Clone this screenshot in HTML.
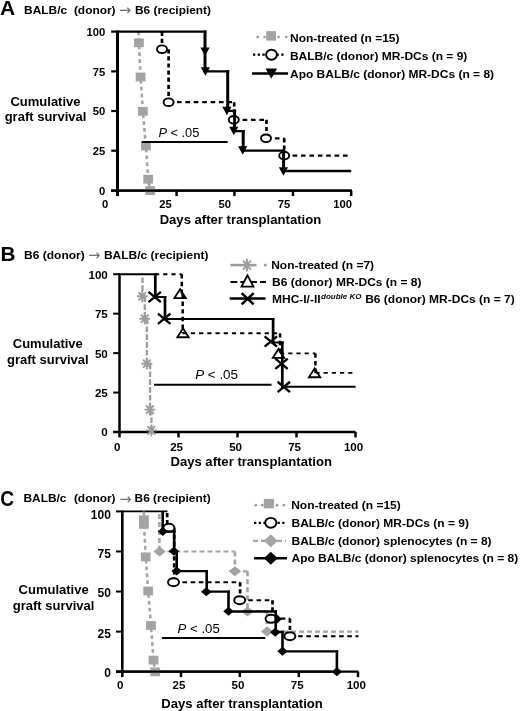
<!DOCTYPE html>
<html><head><meta charset="utf-8"><title>Graft survival</title>
<style>html,body{margin:0;padding:0;background:#fff;width:520px;height:711px;overflow:hidden}svg{display:block}</style>
</head><body>
<svg width="520" height="711" viewBox="0 0 520 711" style="font-family:'Liberation Sans', Arial, sans-serif">
<rect width="520" height="711" fill="#fff"/>
<text x="0.1" y="14.8" text-anchor="start" style="font-size:21px;font-weight:bold;" fill="#000">A</text>
<text transform="translate(24.1 13.5) scale(1.0 0.93)" text-anchor="start" style="font-size:11.9px;font-weight:bold;" fill="#000">BALB/c</text>
<text transform="translate(73.9 13.5) scale(1.0 0.93)" text-anchor="start" style="font-size:11.9px;font-weight:bold;" fill="#000">(donor)</text>
<text x="118.9" y="15.0" style="font-family:'DejaVu Sans',sans-serif;font-size:14.5px;font-weight:normal" fill="#707070">→</text>
<text transform="translate(135.0 13.5) scale(1.0 0.93)" text-anchor="start" style="font-size:11.9px;font-weight:bold;" fill="#000">B6 (recipient)</text>
<text x="45.5" y="105.8" text-anchor="middle" style="font-size:13px;font-weight:bold;" fill="#000">Cumulative</text>
<text x="45.5" y="120.8" text-anchor="middle" style="font-size:13px;font-weight:bold;" fill="#000">graft survival</text>
<path d="M111.20,31.60 H117.5" fill="none" stroke="#000" stroke-width="2.2" stroke-linecap="butt" stroke-linejoin="miter"/>
<text x="105.2" y="35.8" text-anchor="end" style="font-size:11.25px;font-weight:bold;" fill="#000">100</text>
<path d="M111.20,71.40 H117.5" fill="none" stroke="#000" stroke-width="2.2" stroke-linecap="butt" stroke-linejoin="miter"/>
<text x="105.2" y="75.6" text-anchor="end" style="font-size:11.25px;font-weight:bold;" fill="#000">75</text>
<path d="M111.20,111.00 H117.5" fill="none" stroke="#000" stroke-width="2.2" stroke-linecap="butt" stroke-linejoin="miter"/>
<text x="105.2" y="115.2" text-anchor="end" style="font-size:11.25px;font-weight:bold;" fill="#000">50</text>
<path d="M111.20,150.70 H117.5" fill="none" stroke="#000" stroke-width="2.2" stroke-linecap="butt" stroke-linejoin="miter"/>
<text x="105.2" y="154.9" text-anchor="end" style="font-size:11.25px;font-weight:bold;" fill="#000">25</text>
<path d="M111.20,190.70 H117.5" fill="none" stroke="#000" stroke-width="2.2" stroke-linecap="butt" stroke-linejoin="miter"/>
<text x="105.2" y="194.9" text-anchor="end" style="font-size:11.25px;font-weight:bold;" fill="#000">0</text>
<path d="M117.5,30.50 V196.10" fill="none" stroke="#000" stroke-width="3.0" stroke-linecap="butt" stroke-linejoin="miter"/>
<path d="M111.20,190.7 H351.80" fill="none" stroke="#000" stroke-width="2.3" stroke-linecap="butt" stroke-linejoin="miter"/>
<path d="M176.60,190.7 V196.10" fill="none" stroke="#000" stroke-width="2.5" stroke-linecap="butt" stroke-linejoin="miter"/>
<path d="M234.40,190.7 V196.10" fill="none" stroke="#000" stroke-width="2.5" stroke-linecap="butt" stroke-linejoin="miter"/>
<path d="M293.00,190.7 V196.10" fill="none" stroke="#000" stroke-width="2.5" stroke-linecap="butt" stroke-linejoin="miter"/>
<path d="M351.20,190.7 V196.10" fill="none" stroke="#000" stroke-width="2.5" stroke-linecap="butt" stroke-linejoin="miter"/>
<text x="105.2" y="207.5" text-anchor="middle" style="font-size:11.25px;font-weight:bold;" fill="#000">0</text>
<text x="165.5" y="207.5" text-anchor="middle" style="font-size:11.25px;font-weight:bold;" fill="#000">25</text>
<text x="224.8" y="207.5" text-anchor="middle" style="font-size:11.25px;font-weight:bold;" fill="#000">50</text>
<text x="284.0" y="207.5" text-anchor="middle" style="font-size:11.25px;font-weight:bold;" fill="#000">75</text>
<text x="342.7" y="207.5" text-anchor="middle" style="font-size:11.25px;font-weight:bold;" fill="#000">100</text>
<text x="240.4" y="223.6" text-anchor="middle" style="font-size:13.1px;font-weight:bold;" fill="#000">Days after transplantation</text>
<text x="158.4" y="136.6" style="font-size:12.8px;font-weight:normal"><tspan font-style="italic">P</tspan> &lt; .05</text>
<path d="M138.5,31.6 L138.9,42.8 L140.6,77 L142.9,111.3 L145.9,146.0 L148.2,179.2 L150.1,190.4" fill="none" stroke="#a3a3a3" stroke-width="2.6" stroke-linecap="butt" stroke-linejoin="miter" stroke-dasharray="3.7,3.2"/>
<rect x="134.00" y="38.40" width="9.8" height="8.8" fill="#a3a3a3"/>
<rect x="135.70" y="72.60" width="9.8" height="8.8" fill="#a3a3a3"/>
<rect x="138.00" y="106.90" width="9.8" height="8.8" fill="#a3a3a3"/>
<rect x="141.00" y="141.60" width="9.8" height="8.8" fill="#a3a3a3"/>
<rect x="143.30" y="174.80" width="9.8" height="8.8" fill="#a3a3a3"/>
<rect x="145.20" y="186.20" width="9.8" height="8.8" fill="#a3a3a3"/>
<path d="M141.8,142.0 H227.7" fill="none" stroke="#000" stroke-width="2.1" stroke-linecap="butt" stroke-linejoin="miter"/>
<path d="M162.0,31.7 L162.0,49.2 M168.6,49.2 L168.6,102.2 M234.2,102.2 L234.2,119.8 M266.5,119.8 L266.5,138.3 M284.2,138.3 L284.2,155.6" fill="none" stroke="#000" stroke-width="2.7" stroke-linecap="butt" stroke-linejoin="miter" stroke-dasharray="4.2,2.9"/>
<path d="M162.0,49.2 H168.6 M168.6,102.2 H234.2 M234.2,119.8 H266.5 M266.5,138.3 H284.2 M284.2,155.6 H351.2" fill="none" stroke="#000" stroke-width="2.2" stroke-linecap="butt" stroke-linejoin="miter" stroke-dasharray="4.6,3.8"/>
<ellipse cx="162" cy="49.2" rx="5.0" ry="3.8" fill="#fff" stroke="#000" stroke-width="1.9"/>
<ellipse cx="168.6" cy="102.2" rx="5.0" ry="3.8" fill="#fff" stroke="#000" stroke-width="1.9"/>
<ellipse cx="233.8" cy="119.8" rx="5.0" ry="3.8" fill="#fff" stroke="#000" stroke-width="1.9"/>
<ellipse cx="266.0" cy="138.3" rx="5.0" ry="3.8" fill="#fff" stroke="#000" stroke-width="1.9"/>
<ellipse cx="284.2" cy="155.6" rx="5.0" ry="3.8" fill="#fff" stroke="#000" stroke-width="1.9"/>
<path d="M205.0,30.55 V72.55 M227.7,70.25 V111.95 M234.6,109.65 V132.35 M243.2,130.05 V151.85 M283.6,149.55 V172.15" fill="none" stroke="#000" stroke-width="3.0" stroke-linecap="butt" stroke-linejoin="miter"/>
<path d="M117.50,31.7 H206.50 M203.50,71.4 H229.20 M226.20,110.8 H236.10 M233.10,131.2 H244.70 M241.70,150.7 H285.10 M282.10,171.0 H351.20" fill="none" stroke="#000" stroke-width="2.3" stroke-linecap="butt" stroke-linejoin="miter"/>
<path d="M200.40,47.55 L209.60,47.55 L205.00,56.05 Z" fill="#000"/>
<path d="M200.80,67.15 L210.00,67.15 L205.40,75.65 Z" fill="#000"/>
<path d="M222.30,106.65 L231.50,106.65 L226.90,115.15 Z" fill="#000"/>
<path d="M229.20,126.75 L238.40,126.75 L233.80,135.25 Z" fill="#000"/>
<path d="M238.10,146.35 L247.30,146.35 L242.70,154.85 Z" fill="#000"/>
<path d="M278.80,167.15 L288.00,167.15 L283.40,175.65 Z" fill="#000"/>
<path d="M111.20,190.7 H351.8" fill="none" stroke="#000" stroke-width="2.3" stroke-linecap="butt" stroke-linejoin="miter"/>
<circle cx="257.7" cy="37.0" r="1.35" fill="#999"/>
<circle cx="264.6" cy="37.0" r="1.35" fill="#999"/>
<circle cx="278.5" cy="37.0" r="1.35" fill="#999"/>
<circle cx="286.2" cy="37.0" r="1.35" fill="#999"/>
<rect x="266.20" y="31.15" width="9.8" height="9.5" fill="#a3a3a3"/>
<text transform="translate(290 41.6) scale(1.0 0.95)" text-anchor="start" style="font-size:12px;font-weight:bold;" fill="#000">Non-treated (n =15)</text>
<path d="M253,54.7 H284" fill="none" stroke="#000" stroke-width="2.3" stroke-linecap="butt" stroke-linejoin="miter" stroke-dasharray="2.3,2.4"/>
<ellipse cx="271.5" cy="54.7" rx="5.4" ry="5.0" fill="#fff" stroke="#000" stroke-width="1.9"/>
<text transform="translate(289.9 59.8) scale(1.0 0.95)" text-anchor="start" style="font-size:12px;font-weight:bold;" fill="#000">BALB/c (donor) MR-DCs (n = 9)</text>
<path d="M252,73.5 H288" fill="none" stroke="#000" stroke-width="2.6" stroke-linecap="butt" stroke-linejoin="miter"/>
<path d="M265.50,68.55 L277.10,68.55 L271.30,78.85 Z" fill="#000"/>
<text transform="translate(290 77.6) scale(1.0 0.95)" text-anchor="start" style="font-size:12px;font-weight:bold;" fill="#000">Apo BALB/c (donor) MR-DCs (n = 8)</text>
<text x="0.4" y="260.8" text-anchor="start" style="font-size:20.7px;font-weight:bold;" fill="#000">B</text>
<text transform="translate(24.1 258.7) scale(1.0 0.93)" text-anchor="start" style="font-size:12px;font-weight:bold;" fill="#000">B6 (donor)</text>
<text x="88.2" y="260.2" style="font-family:'DejaVu Sans',sans-serif;font-size:14.5px;font-weight:normal" fill="#707070">→</text>
<text transform="translate(103.9 258.7) scale(1.0 0.93)" text-anchor="start" style="font-size:12px;font-weight:bold;" fill="#000">BALB/c (recipient)</text>
<text x="47.8" y="348.0" text-anchor="middle" style="font-size:13px;font-weight:bold;" fill="#000">Cumulative</text>
<text x="47.8" y="364.0" text-anchor="middle" style="font-size:13px;font-weight:bold;" fill="#000">graft survival</text>
<path d="M113.20,274.20 H119.5" fill="none" stroke="#000" stroke-width="2.0" stroke-linecap="butt" stroke-linejoin="miter"/>
<text x="107.8" y="278.6" text-anchor="end" style="font-size:11.6px;font-weight:bold;" fill="#000">100</text>
<path d="M113.20,313.65 H119.5" fill="none" stroke="#000" stroke-width="2.0" stroke-linecap="butt" stroke-linejoin="miter"/>
<text x="107.8" y="318.05" text-anchor="end" style="font-size:11.6px;font-weight:bold;" fill="#000">75</text>
<path d="M113.20,353.10 H119.5" fill="none" stroke="#000" stroke-width="2.0" stroke-linecap="butt" stroke-linejoin="miter"/>
<text x="107.8" y="357.5" text-anchor="end" style="font-size:11.6px;font-weight:bold;" fill="#000">50</text>
<path d="M113.20,392.55 H119.5" fill="none" stroke="#000" stroke-width="2.0" stroke-linecap="butt" stroke-linejoin="miter"/>
<text x="107.8" y="396.95" text-anchor="end" style="font-size:11.6px;font-weight:bold;" fill="#000">25</text>
<path d="M113.20,432.00 H119.5" fill="none" stroke="#000" stroke-width="2.0" stroke-linecap="butt" stroke-linejoin="miter"/>
<text x="107.8" y="436.4" text-anchor="end" style="font-size:11.6px;font-weight:bold;" fill="#000">0</text>
<path d="M119.5,273.20 V437.40" fill="none" stroke="#000" stroke-width="2.5" stroke-linecap="butt" stroke-linejoin="miter"/>
<path d="M113.20,432.0 H355.60" fill="none" stroke="#000" stroke-width="2.3" stroke-linecap="butt" stroke-linejoin="miter"/>
<path d="M178.50,432.0 V437.40" fill="none" stroke="#000" stroke-width="2.5" stroke-linecap="butt" stroke-linejoin="miter"/>
<path d="M237.50,432.0 V437.40" fill="none" stroke="#000" stroke-width="2.5" stroke-linecap="butt" stroke-linejoin="miter"/>
<path d="M296.50,432.0 V437.40" fill="none" stroke="#000" stroke-width="2.5" stroke-linecap="butt" stroke-linejoin="miter"/>
<path d="M355.50,432.0 V437.40" fill="none" stroke="#000" stroke-width="2.5" stroke-linecap="butt" stroke-linejoin="miter"/>
<text x="117.3" y="450.5" text-anchor="middle" style="font-size:11.6px;font-weight:bold;" fill="#000">0</text>
<text x="176.6" y="450.5" text-anchor="middle" style="font-size:11.6px;font-weight:bold;" fill="#000">25</text>
<text x="235.6" y="450.5" text-anchor="middle" style="font-size:11.6px;font-weight:bold;" fill="#000">50</text>
<text x="294.6" y="450.5" text-anchor="middle" style="font-size:11.6px;font-weight:bold;" fill="#000">75</text>
<text x="353.6" y="450.5" text-anchor="middle" style="font-size:11.6px;font-weight:bold;" fill="#000">100</text>
<text x="251.2" y="466.3" text-anchor="middle" style="font-size:13.1px;font-weight:bold;" fill="#000">Days after transplantation</text>
<text x="195.2" y="379.3" style="font-size:13.4px;font-weight:normal"><tspan font-style="italic">P</tspan> &lt; .05</text>
<path d="M154.1,384.8 H271.5" fill="none" stroke="#000" stroke-width="2.0" stroke-linecap="butt" stroke-linejoin="miter"/>
<path d="M142.5,277.5 L142.5,296.5 M144.8,296.5 L144.8,318.7 M146.9,318.7 L146.9,363.7 M150.1,363.7 L150.1,409.6 M151.4,409.6 L151.4,431.0" fill="none" stroke="#9c9c9c" stroke-width="2.3" stroke-linecap="butt" stroke-linejoin="miter" stroke-dasharray="5.6,2.2"/>
<path d="M142.5,296.5 H144.8 M144.8,318.7 H146.9 M146.9,363.7 H150.1 M150.1,409.6 H151.4" fill="none" stroke="#9c9c9c" stroke-width="2.2" stroke-linecap="butt" stroke-linejoin="miter"/>
<path d="M142.30,290.40 L142.30,302.20 M138.48,292.13 L146.12,300.47 M136.90,296.30 L147.70,296.30 M138.48,300.47 L146.12,292.13 " stroke="#9c9c9c" stroke-width="1.9" fill="none"/>
<path d="M144.70,312.80 L144.70,324.60 M140.88,314.53 L148.52,322.87 M139.30,318.70 L150.10,318.70 M140.88,322.87 L148.52,314.53 " stroke="#9c9c9c" stroke-width="1.9" fill="none"/>
<path d="M146.90,357.80 L146.90,369.60 M143.08,359.53 L150.72,367.87 M141.50,363.70 L152.30,363.70 M143.08,367.87 L150.72,359.53 " stroke="#9c9c9c" stroke-width="1.9" fill="none"/>
<path d="M149.90,403.70 L149.90,415.50 M146.08,405.43 L153.72,413.77 M144.50,409.60 L155.30,409.60 M146.08,413.77 L153.72,405.43 " stroke="#9c9c9c" stroke-width="1.9" fill="none"/>
<path d="M151.40,424.50 L151.40,436.30 M147.58,426.23 L155.22,434.57 M146.00,430.40 L156.80,430.40 M147.58,434.57 L155.22,426.23 " stroke="#9c9c9c" stroke-width="1.9" fill="none"/>
<path d="M181.8,274.2 L181.8,294.0 M182.7,294.0 L182.7,333.2 M280.0,333.2 L280.0,353.4 M315.4,353.4 L315.4,372.9" fill="none" stroke="#000" stroke-width="2.5" stroke-linecap="butt" stroke-linejoin="miter" stroke-dasharray="4.4,3.2"/>
<path d="M155.0,274.2 H181.8 M181.8,294.0 H182.7 M182.7,333.2 H280.0 M280.0,353.4 H315.4 M315.4,372.9 H355.6" fill="none" stroke="#000" stroke-width="1.9" stroke-linecap="butt" stroke-linejoin="miter" stroke-dasharray="4.2,4.0"/>
<path d="M155.3,273.20 V298.00 M165.0,296.00 V320.00 M273.1,318.00 V343.50 M282.3,341.50 V387.70" fill="none" stroke="#000" stroke-width="2.7" stroke-linecap="butt" stroke-linejoin="miter"/>
<path d="M119.50,274.2 H156.65 M153.95,297.0 H166.35 M163.65,319.0 H274.45 M271.75,342.5 H283.65 M280.95,386.7 H355.60" fill="none" stroke="#000" stroke-width="2.0" stroke-linecap="butt" stroke-linejoin="miter"/>
<path d="M180.10,289.15 L185.80,298.05 L174.40,298.05 Z" fill="none" stroke="#000" stroke-width="1.8" stroke-linejoin="miter"/>
<path d="M183.00,328.35 L188.70,337.25 L177.30,337.25 Z" fill="none" stroke="#000" stroke-width="1.8" stroke-linejoin="miter"/>
<path d="M278.50,348.95 L284.20,357.85 L272.80,357.85 Z" fill="none" stroke="#000" stroke-width="1.8" stroke-linejoin="miter"/>
<path d="M314.60,368.35 L320.30,377.25 L308.90,377.25 Z" fill="none" stroke="#000" stroke-width="1.8" stroke-linejoin="miter"/>
<path d="M148.50,291.85 L160.90,302.15 M160.90,291.85 L148.50,302.15" stroke="#000" stroke-width="2.4" fill="none"/>
<path d="M158.00,313.55 L170.40,323.85 M170.40,313.55 L158.00,323.85" stroke="#000" stroke-width="2.4" fill="none"/>
<path d="M264.60,336.35 L277.00,346.65 M277.00,336.35 L264.60,346.65" stroke="#000" stroke-width="2.4" fill="none"/>
<path d="M275.30,358.65 L287.70,368.95 M287.70,358.65 L275.30,368.95" stroke="#000" stroke-width="2.4" fill="none"/>
<path d="M277.60,381.75 L290.00,392.05 M290.00,381.75 L277.60,392.05" stroke="#000" stroke-width="2.4" fill="none"/>
<path d="M230.4,265.1 H256.5" fill="none" stroke="#9c9c9c" stroke-width="2.6" stroke-linecap="butt" stroke-linejoin="miter"/>
<path d="M264,265.1 H266.5" fill="none" stroke="#9c9c9c" stroke-width="2.6" stroke-linecap="butt" stroke-linejoin="miter"/>
<path d="M246.90,258.70 L246.90,271.50 M243.01,260.57 L250.79,269.63 M241.40,265.10 L252.40,265.10 M243.01,269.63 L250.79,260.57 " stroke="#9c9c9c" stroke-width="2.0" fill="none"/>
<text transform="translate(271.2 269.0) scale(1.0 0.95)" text-anchor="start" style="font-size:12px;font-weight:bold;" fill="#000">Non-treated (n =7)</text>
<path d="M230.5,282 H266" fill="none" stroke="#000" stroke-width="2.1" stroke-linecap="butt" stroke-linejoin="miter" stroke-dasharray="6.8,3"/>
<path d="M247.50,275.30 L253.50,286.70 L241.50,286.70 Z" fill="#fff" stroke="#000" stroke-width="1.8" stroke-linejoin="miter"/>
<text transform="translate(272 285.8) scale(1.0 0.95)" text-anchor="start" style="font-size:12px;font-weight:bold;" fill="#000">B6 (donor) MR-DCs (n = 8)</text>
<path d="M229.7,298.5 H265.6" fill="none" stroke="#000" stroke-width="2.5" stroke-linecap="butt" stroke-linejoin="miter"/>
<path d="M241.65,293.10 L253.65,304.40 M253.65,293.10 L241.65,304.40" stroke="#000" stroke-width="2.6" fill="none"/>
<text transform="translate(272.0 303.1) scale(1.0 0.95)" text-anchor="start" style="font-size:12px;font-weight:bold;" fill="#000">MHC-I/-II</text>
<text x="321.0" y="299.3" text-anchor="start" style="font-size:8.0px;font-weight:bold;font-style:italic" fill="#000">double KO</text>
<text transform="translate(365.2 303.1) scale(1.0 0.95)" text-anchor="start" style="font-size:12px;font-weight:bold;" fill="#000">B6 (donor) MR-DCs (n = 7)</text>
<text transform="translate(0.2 505.9) scale(0.9 1.0)" text-anchor="start" style="font-size:21.3px;font-weight:bold;" fill="#000">C</text>
<text transform="translate(23.5 502.0) scale(1.0 0.93)" text-anchor="start" style="font-size:11.9px;font-weight:bold;" fill="#000">BALB/c</text>
<text transform="translate(73.9 502.0) scale(1.0 0.93)" text-anchor="start" style="font-size:11.9px;font-weight:bold;" fill="#000">(donor)</text>
<text x="119.6" y="503.5" style="font-family:'DejaVu Sans',sans-serif;font-size:14.5px;font-weight:normal" fill="#707070">→</text>
<text transform="translate(134.6 502.0) scale(1.0 0.93)" text-anchor="start" style="font-size:11.9px;font-weight:bold;" fill="#000">B6 (recipient)</text>
<text x="53.6" y="594.3" text-anchor="middle" style="font-size:13px;font-weight:bold;" fill="#000">Cumulative</text>
<text x="53.6" y="609.5" text-anchor="middle" style="font-size:13px;font-weight:bold;" fill="#000">graft survival</text>
<path d="M116.00,511.40 H122.3" fill="none" stroke="#000" stroke-width="2.0" stroke-linecap="butt" stroke-linejoin="miter"/>
<text x="110.9" y="518.6" text-anchor="end" style="font-size:12.0px;font-weight:bold;" fill="#000">100</text>
<path d="M116.00,551.48 H122.3" fill="none" stroke="#000" stroke-width="2.0" stroke-linecap="butt" stroke-linejoin="miter"/>
<text x="110.9" y="558.0" text-anchor="end" style="font-size:12.0px;font-weight:bold;" fill="#000">75</text>
<path d="M116.00,591.55 H122.3" fill="none" stroke="#000" stroke-width="2.0" stroke-linecap="butt" stroke-linejoin="miter"/>
<text x="110.9" y="597.4" text-anchor="end" style="font-size:12.0px;font-weight:bold;" fill="#000">50</text>
<path d="M116.00,631.62 H122.3" fill="none" stroke="#000" stroke-width="2.0" stroke-linecap="butt" stroke-linejoin="miter"/>
<text x="110.9" y="637.5" text-anchor="end" style="font-size:12.0px;font-weight:bold;" fill="#000">25</text>
<path d="M116.00,671.70 H122.3" fill="none" stroke="#000" stroke-width="2.0" stroke-linecap="butt" stroke-linejoin="miter"/>
<text x="110.9" y="676.6" text-anchor="end" style="font-size:12.0px;font-weight:bold;" fill="#000">0</text>
<path d="M122.3,510.60 V677.10" fill="none" stroke="#000" stroke-width="2.6" stroke-linecap="butt" stroke-linejoin="miter"/>
<path d="M116.00,671.7 H358.50" fill="none" stroke="#000" stroke-width="2.3" stroke-linecap="butt" stroke-linejoin="miter"/>
<path d="M181.00,671.7 V677.10" fill="none" stroke="#000" stroke-width="2.5" stroke-linecap="butt" stroke-linejoin="miter"/>
<path d="M239.80,671.7 V677.10" fill="none" stroke="#000" stroke-width="2.5" stroke-linecap="butt" stroke-linejoin="miter"/>
<path d="M298.80,671.7 V677.10" fill="none" stroke="#000" stroke-width="2.5" stroke-linecap="butt" stroke-linejoin="miter"/>
<path d="M358.00,671.7 V677.10" fill="none" stroke="#000" stroke-width="2.5" stroke-linecap="butt" stroke-linejoin="miter"/>
<text x="120.3" y="689.2" text-anchor="middle" style="font-size:11.6px;font-weight:bold;" fill="#000">0</text>
<text x="179.0" y="689.2" text-anchor="middle" style="font-size:11.6px;font-weight:bold;" fill="#000">25</text>
<text x="238.0" y="689.2" text-anchor="middle" style="font-size:11.6px;font-weight:bold;" fill="#000">50</text>
<text x="297.2" y="689.2" text-anchor="middle" style="font-size:11.6px;font-weight:bold;" fill="#000">75</text>
<text x="356.3" y="689.2" text-anchor="middle" style="font-size:11.6px;font-weight:bold;" fill="#000">100</text>
<text x="242.0" y="707.7" text-anchor="middle" style="font-size:13.1px;font-weight:bold;" fill="#000">Days after transplantation</text>
<text x="177.6" y="633.0" style="font-size:13.2px;font-weight:normal"><tspan font-style="italic">P</tspan> &lt; .05</text>
<path d="M161.9,638.1 H265.3" fill="none" stroke="#000" stroke-width="2.0" stroke-linecap="butt" stroke-linejoin="miter"/>
<path d="M122.3,511.4 H167.4" fill="none" stroke="#000" stroke-width="1.6" stroke-linecap="butt" stroke-linejoin="miter"/>
<path d="M143.9,511.4 L143.9,522.1 L145.7,556.9 L148.2,591 L151,625 L153.5,660.1 L155.2,671.7" fill="none" stroke="#a3a3a3" stroke-width="2.6" stroke-linecap="butt" stroke-linejoin="miter" stroke-dasharray="3.7,3.2"/>
<rect x="139.00" y="515.3" width="9.8" height="13.5" fill="#a3a3a3"/>
<rect x="140.80" y="552.50" width="9.8" height="8.8" fill="#a3a3a3"/>
<rect x="143.30" y="586.60" width="9.8" height="8.8" fill="#a3a3a3"/>
<rect x="146.10" y="621.10" width="9.8" height="8.8" fill="#a3a3a3"/>
<rect x="148.60" y="655.70" width="9.8" height="8.8" fill="#a3a3a3"/>
<rect x="150.30" y="667.50" width="9.8" height="8.8" fill="#a3a3a3"/>
<path d="M159.4,514.0 L159.4,551.5 M234.9,551.5 L234.9,571.3 M247.5,571.3 L247.5,611.0 M267.0,611.0 L267.0,631.7" fill="none" stroke="#a3a3a3" stroke-width="2.6" stroke-linecap="butt" stroke-linejoin="miter" stroke-dasharray="5,3"/>
<path d="M159.4,551.5 H234.9 M234.9,571.3 H247.5 M247.5,611.0 H267.0 M267.0,631.7 H358.5" fill="none" stroke="#a3a3a3" stroke-width="2.2" stroke-linecap="butt" stroke-linejoin="miter" stroke-dasharray="5,3"/>
<path d="M159.60,546.60 L165.85,551.60 L159.60,556.60 L153.35,551.60 Z" fill="#a3a3a3"/>
<path d="M234.90,566.20 L241.15,571.20 L234.90,576.20 L228.65,571.20 Z" fill="#a3a3a3"/>
<path d="M247.50,606.50 L253.75,611.50 L247.50,616.50 L241.25,611.50 Z" fill="#a3a3a3"/>
<path d="M267.20,626.50 L273.45,631.50 L267.20,636.50 L260.95,631.50 Z" fill="#a3a3a3"/>
<path d="M167.2,513.0 L167.2,527.8 M174.2,527.8 L174.2,582.2 M240.1,582.2 L240.1,600.2 M272.5,600.2 L272.5,618.6 M289.9,618.6 L289.9,636.3" fill="none" stroke="#000" stroke-width="2.7" stroke-linecap="butt" stroke-linejoin="miter" stroke-dasharray="4.2,2.9"/>
<path d="M167.2,527.8 H174.2 M174.2,582.2 H240.1 M240.1,600.2 H272.5 M272.5,618.6 H289.9 M289.9,636.3 H358.5" fill="none" stroke="#000" stroke-width="2.1" stroke-linecap="butt" stroke-linejoin="miter" stroke-dasharray="4.6,3.6"/>
<path d="M277.00,614.50 L282.00,619.00 L277.00,623.50 L272.00,619.00 Z" fill="#000"/>
<ellipse cx="168.9" cy="527.8" rx="5.5" ry="4.0" fill="#fff" stroke="#000" stroke-width="1.9"/>
<ellipse cx="173.5" cy="582.2" rx="5.5" ry="4.0" fill="#fff" stroke="#000" stroke-width="1.9"/>
<ellipse cx="239.7" cy="600.2" rx="5.5" ry="4.0" fill="#fff" stroke="#000" stroke-width="1.9"/>
<ellipse cx="271.0" cy="618.8" rx="5.5" ry="4.0" fill="#fff" stroke="#000" stroke-width="1.9"/>
<ellipse cx="289.9" cy="636.2" rx="5.5" ry="4.0" fill="#fff" stroke="#000" stroke-width="1.9"/>
<path d="M162.7,511.40 V532.75 M174.2,530.45 V552.35 M176.7,550.05 V572.25 M206.7,569.95 V592.85 M228.5,590.55 V612.65 M275.7,610.35 V633.15 M282.5,630.85 V652.45 M336.9,650.15 V671.70" fill="none" stroke="#000" stroke-width="2.6" stroke-linecap="butt" stroke-linejoin="miter"/>
<path d="M161.40,531.6 H175.50 M172.90,551.2 H178.00 M175.40,571.1 H208.00 M205.40,591.7 H229.80 M227.20,611.5 H277.00 M274.40,632.0 H283.80 M281.20,651.3 H338.20" fill="none" stroke="#000" stroke-width="2.3" stroke-linecap="butt" stroke-linejoin="miter"/>
<path d="M162.80,526.90 L168.05,531.40 L162.80,535.90 L157.55,531.40 Z" fill="#000"/>
<path d="M173.90,546.70 L179.15,551.20 L173.90,555.70 L168.65,551.20 Z" fill="#000"/>
<path d="M176.70,566.40 L181.95,570.90 L176.70,575.40 L171.45,570.90 Z" fill="#000"/>
<path d="M206.30,587.20 L211.55,591.70 L206.30,596.20 L201.05,591.70 Z" fill="#000"/>
<path d="M228.50,606.80 L233.75,611.30 L228.50,615.80 L223.25,611.30 Z" fill="#000"/>
<path d="M275.20,627.70 L280.45,632.20 L275.20,636.70 L269.95,632.20 Z" fill="#000"/>
<path d="M282.50,646.80 L287.75,651.30 L282.50,655.80 L277.25,651.30 Z" fill="#000"/>
<path d="M336.90,667.20 L342.15,671.70 L336.90,676.20 L331.65,671.70 Z" fill="#000"/>
<path d="M116.00,671.7 H331.90" fill="none" stroke="#000" stroke-width="2.3" stroke-linecap="butt" stroke-linejoin="miter"/>
<circle cx="255.8" cy="505.2" r="1.35" fill="#999"/>
<circle cx="262.3" cy="505.2" r="1.35" fill="#999"/>
<circle cx="276.9" cy="505.2" r="1.35" fill="#999"/>
<circle cx="283.8" cy="505.2" r="1.35" fill="#999"/>
<rect x="263.80" y="498.90" width="10.2" height="9.4" fill="#a3a3a3"/>
<text transform="translate(291.2 509.2) scale(1.0 0.95)" text-anchor="start" style="font-size:12px;font-weight:bold;" fill="#000">Non-treated (n =15)</text>
<path d="M254,522.8 H285" fill="none" stroke="#000" stroke-width="2.3" stroke-linecap="butt" stroke-linejoin="miter" stroke-dasharray="2.3,2.4"/>
<ellipse cx="270.8" cy="522.8" rx="5.6" ry="4.9" fill="#fff" stroke="#000" stroke-width="1.9"/>
<text transform="translate(291.5 526.9) scale(1.0 0.95)" text-anchor="start" style="font-size:12px;font-weight:bold;" fill="#000">BALB/c (donor) MR-DCs (n = 9)</text>
<path d="M253,540.8 H286" fill="none" stroke="#a3a3a3" stroke-width="2.3" stroke-linecap="butt" stroke-linejoin="miter" stroke-dasharray="5,3"/>
<path d="M270.80,534.30 L277.70,540.80 L270.80,547.30 L263.90,540.80 Z" fill="#a3a3a3"/>
<text transform="translate(291.5 544.6) scale(1.0 0.95)" text-anchor="start" style="font-size:12px;font-weight:bold;" fill="#000">BALB/c (donor) splenocytes (n = 8)</text>
<path d="M254,558.2 H287" fill="none" stroke="#000" stroke-width="2.6" stroke-linecap="butt" stroke-linejoin="miter"/>
<path d="M270.80,551.70 L277.80,558.20 L270.80,564.70 L263.80,558.20 Z" fill="#000"/>
<text transform="translate(291.5 561.8) scale(1.0 0.95)" text-anchor="start" style="font-size:12px;font-weight:bold;" fill="#000">Apo BALB/c (donor) splenocytes (n = 8)</text>
</svg>
</body></html>
